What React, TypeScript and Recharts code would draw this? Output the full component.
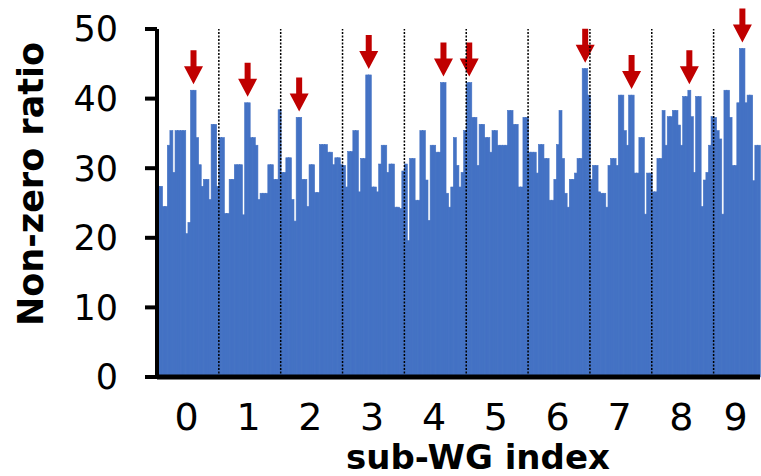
import React from 'react';
import { BarChart, Bar, XAxis, YAxis, ReferenceLine } from 'recharts';

// sub-WG groups, one array of non-zero ratios per group
const groupLabels = ['0', '1', '2', '3', '4', '5', '6', '7', '8', '9'];
const g0 = [27.4, 27.4, 24.5, 24.5, 33.3, 35.4, 29.4, 35.4, 35.4, 35.4, 35.4, 20.6, 22.2, 41.2, 41.2, 34.4, 30.5, 27.4, 28.4, 28.4, 25.5, 36.3, 36.3, 27.4];
const g1 = [34.4, 34.4, 23.5, 23.5, 28.4, 28.4, 30.5, 30.5, 30.5, 23.3, 39.4, 39.4, 34.4, 34.4, 33.3, 25.5, 26.4, 26.4, 26.4, 30.5, 30.5, 28.4, 28.4, 38.4];
const g2 = [29.4, 29.4, 31.5, 31.5, 25.5, 22.4, 37.3, 37.3, 28.4, 28.4, 24.5, 30.5, 30.5, 26.5, 26.5, 33.4, 33.4, 33.4, 32.3, 32.3, 30.5, 31.5, 31.5, 30.5];
const g3 = [30.4, 27.3, 32.4, 32.4, 35.4, 35.4, 26.6, 31.4, 31.4, 43.4, 43.4, 27.3, 27.3, 26.6, 30.6, 33.3, 33.3, 29.4, 30.6, 30.6, 24.4, 24.4, 24.2, 29.6];
const g4 = [30.6, 19.6, 31.4, 31.4, 25.4, 25.4, 35.4, 35.4, 28.3, 22.5, 33.3, 33.3, 32.3, 32.3, 42.3, 42.3, 26.4, 24.4, 27.3, 34.4, 30.4, 27.3, 29.4, 35.4];
const g5 = [42.3, 42.3, 37.3, 37.3, 30.4, 36.3, 36.3, 34.4, 34.4, 32.3, 35.4, 35.4, 33.3, 33.3, 33.3, 33.3, 38.3, 38.3, 36.3, 36.3, 27.3, 27.3, 37.3, 37.3];
const g6 = [32.3, 32.3, 32.3, 29.3, 33.4, 33.4, 31.4, 31.4, 25.4, 25.4, 28.4, 33.4, 38.3, 31.4, 26.4, 24.4, 28.4, 28.4, 29.3, 31.4, 31.4, 44.3, 44.3, 40.5];
const g7 = [28.4, 30.4, 30.4, 26.6, 26.4, 26.4, 24.4, 30.4, 31.4, 31.4, 30.4, 40.5, 40.5, 35.4, 33.3, 40.5, 40.5, 29.3, 29.3, 34.4, 34.4, 23.4, 29.3, 29.3];
const g8 = [26.6, 26.6, 31.4, 31.4, 38.3, 33.3, 37.4, 37.4, 38.3, 38.3, 36.2, 33.3, 40.3, 40.3, 41.2, 37.4, 29.4, 40.3, 40.3, 24.5, 28.3, 29.4, 33.3, 37.4];
const g9 = [37.3, 35.4, 34.2, 23.4, 41.2, 41.2, 37.3, 30.4, 30.4, 39.4, 47.2, 47.2, 39.4, 40.5, 40.5, 28.2, 33.3, 33.3];
const groups = [g0, g1, g2, g3, g4, g5, g6, g7, g8, g9];

// bar (within its group) that gets the red arrow
const arrowIdx = [13, 10, 6, 9, 14, 0, 21, 15, 14, 10];
const yTicks = [0, 10, 20, 30, 40, 50];

const FONT = 'DejaVu Sans';
const BLUE = '#4472C4';

const data: any[] = [];
const groupStarts: number[] = [];
const groupCenters: number[] = [];
groups.forEach((g, gi) => {
	groupStarts.push(data.length);
	groupCenters.push(data.length + Math.floor((g.length - 1) / 2));
	g.forEach((v, i) => {
		const arrow = i === arrowIdx[gi];
		data.push({ idx: data.length, value: v, group: gi, arrow, pair: arrow && g[i + 1] === v });
	});
});
const lastIdx = data.length - 1;

const BarShape = (props: any) => {
	const { x, y, width, height, payload } = props;
	const tip = y - 6;
	const cx = x + width / 2 + (payload.pair ? width / 2 : 0);
	return (
		<g>
			<rect x={x} y={y} width={width} height={height} fill={BLUE} stroke={BLUE} strokeWidth={0.6} />
			{payload.arrow && (
				<polygon
					fill="#C00000"
					points={`${cx - 3},${tip - 34} ${cx + 3},${tip - 34} ${cx + 3},${tip - 18} ${cx + 9.5},${tip - 18} ${cx},${tip} ${cx - 9.5},${tip - 18} ${cx - 3},${tip - 18}`}
				/>
			)}
		</g>
	);
};

export default function App() {
	return (
		<div style={{ position: 'absolute', left: 0, top: 0, width: 761, height: 476, overflow: 'hidden', background: '#fff' }}>
			<BarChart width={761} height={476} data={data} margin={{ top: 29, right: 1, bottom: 0, left: 0 }} barCategoryGap={0} barGap={0}>
				<XAxis
					dataKey="idx"
					type="category"
					ticks={groupCenters}
					interval={0}
					tickFormatter={(v: number) => groupLabels[data[v].group]}
					height={99}
					tickSize={0}
					tickMargin={26}
					axisLine={{ stroke: '#000', strokeWidth: 5 }}
					tick={{ fill: '#000', fontSize: 38, fontFamily: FONT }}
					label={{
						content: () => (
							<text x={478} y={469} textAnchor="middle" fontFamily={FONT} fontSize={34} fontWeight="bold" fill="#000">
								sub-WG index
							</text>
						),
					}}
				/>
				<YAxis
					domain={[0, 50]}
					ticks={yTicks}
					width={157}
					tickSize={12}
					tickMargin={27}
					axisLine={{ stroke: '#000', strokeWidth: 4 }}
					tickLine={{ stroke: '#000', strokeWidth: 4 }}
					tick={{ fill: '#000', fontSize: 35, fontFamily: FONT }}
					label={{
						content: () => (
							<text x={43} y={184} transform="rotate(-90 43 184)" textAnchor="middle" fontFamily={FONT} fontSize={35} fontWeight="bold" fill="#000">
								Non-zero ratio
							</text>
						),
					}}
				/>
				<Bar dataKey="value" isAnimationActive={false} shape={BarShape} />
				{groupStarts.slice(1).map((s) => (
					<ReferenceLine key={s} x={s} position="start" stroke="#000" strokeWidth={1.5} strokeDasharray="2 1.5" />
				))}
				<ReferenceLine x={lastIdx} position="end" stroke="#000" strokeWidth={1.5} strokeDasharray="2 1.5" />
			</BarChart>
		</div>
	);
}
